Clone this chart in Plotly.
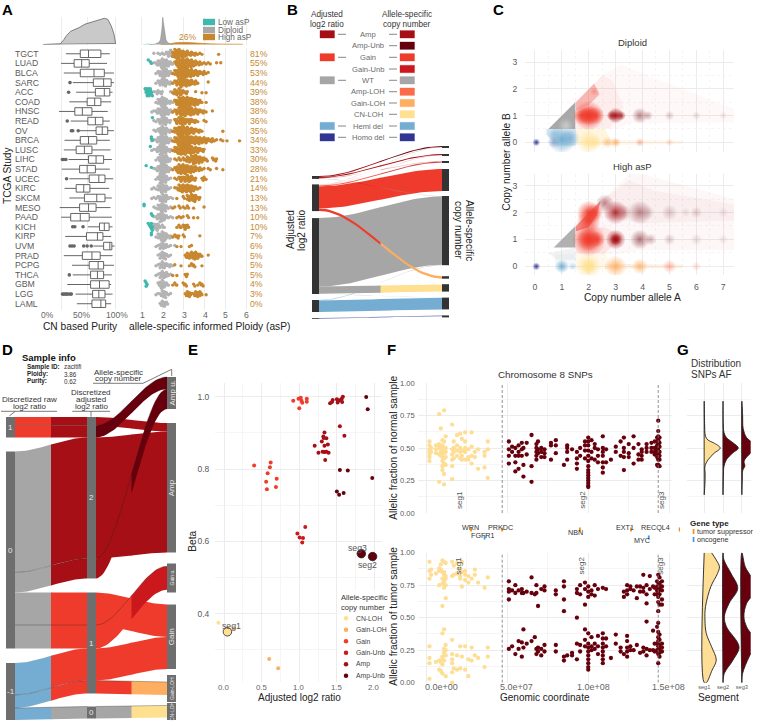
import plotly.graph_objects as go

W, H = 757, 725
FONT = "Liberation Sans"
AMP, AMPU, GAIN, GAINU, WT = "#a50f15", "#67000d", "#ef3b2c", "#cb181d", "#a6a6a6"
AMPLOH, GAINLOH, CNLOH, HEMI, HOMO = "#fb6a4a", "#fdae61", "#fee090", "#74add1", "#313695"
TEAL, BROWN, PCT = "#3fb8ad", "#c8872e", "#c58a35"
GRID, GRID2 = "#ececec", "#f5f5f5"
NODE = "#6e6e6e"

# ---------- Panel A ----------
STUDIES = ["TGCT","LUAD","BLCA","SARC","ACC","COAD","HNSC","READ","OV","BRCA","LUSC","LIHC","STAD",
           "UCEC","KIRC","SKCM","MESO","PAAD","KICH","KIRP","UVM","PRAD","PCPG","THCA","GBM","LGG","LAML"]
PCT_HIGH = [81,55,53,44,39,38,38,36,35,34,33,30,28,21,14,13,13,10,10,7,6,5,5,5,4,3,0]
WHISK_LO = [27,20,24,37,42,32,17,34,47,25,24,31,21,32,25,32,18,20,59,26,67,24,36,37,29,41,43]
Q1 = [48,39,48,67,70,58,40,59,71,48,42,60,47,61,42,54,47,34,76,57,82,51,61,63,63,66,65]
MEDIAN = [60,50,68,82,83,69,51,70,80,60,54,71,58,75,53,72,60,48,83,73,91,65,74,73,76,75,78]
Q3 = [78,61,83,93,91,78,65,81,88,72,65,82,70,84,62,84,71,61,90,81,94,77,82,82,90,84,85]
WHISK_HI = [91,87,97,97,95,93,88,91,97,91,92,94,91,96,90,94,92,94,95,93,98,95,97,94,93,95,93]
OUT_ROW = [3,4,7,8,8,8,11,11,11,13,18,18,18,20,20,20,20,20,20,23,25,25,25,25,25,25,25]
OUT_VAL = [33,31,29,35,37,45,22,24,27,28,37,40,52,33,36,39,53,58,64,32,22,24,26,28,30,33,35]
PUR_X = [-6,19,24,28,34,40,47,55,62,70,77,83,88,93,97,99.5]
PUR_Y = [0,2,15,28,41,46,53,63,68,73,77,81,78,58,33,3]
PLO_X = [1.35,1.6,1.8,1.88,1.94,1.98,2.0,2.03,2.08,2.15,2.25,2.4,2.5]
GRAY_D = [0,1,6,14,40,66,84,68,36,14,5,1,0]
BROWN_X = [1.9,2.3,2.55,2.8,3.2,3.7,4.2,4.8,5.82]
BROWN_D = [0,1,5,6.5,6,3.5,2,1,0.4]
TEAL_X = [1.0,1.1,1.3,1.5,1.65]
TEAL_D = [0,1.6,2,1.2,0]
DIP_START, HIGH_START = 1.4, 2.4
DIPLOID = ["0010111123430","0012345543210","0001235543210","0001234432110","0012221000120","0001345532110",
           "0112345543210","0011234432100","0011245432110","0112355543210","0112355432110","0001245542100",
           "0012355543100","0001255431100","0111345431100","0111235431110","0011345421100","0012355321110",
           "0134312100000","0001345532110","0001134221101","0000134421100","0001134322110","0001134331100",
           "0000245321000","0001124421100","0000023320000"]
HIGH = ["035554333222111100000001","0024555554433221111100101","0134455554433322211",
        "0123454433322100001","013343221000100101","002355555544332101","012345554443332211001",
        "002344332322110011","0134455443332211000000000" + "1",
        "01345555554444333322211" + "01101" + "00000" + "1",
        "0134555544433322100","001121223345543322002210","01245555443332211011001001",
        "0011232343321002210","0012444444332110","000100203344321","01102011200100001",
        "00011110200101","000121232","012210200000001","00010100011","0000000233444321001",
        "00100100012200010","010100021","0121002200020122","000000023312333101",""]
LOW = {"LUAD":[1.3,1.4,1.45],"ACC":[1.15,1.2,1.2,1.25,1.25,1.3,1.3,1.3,1.35,1.35,1.4,1.4,1.45,1.45,1.5,1.2,1.3,1.4],
       "READ":[1.5],"BRCA":[1.45,1.45,1.5],"LUSC":[1.4],"STAD":[1.2,1.45],"MESO":[1.1,1.1],"PAAD":[1.45,1.5],
       "KICH":[1.3,1.35,1.4,1.45,1.5,1.45,1.4,1.5],"KIRP":[1.45,1.45],"GBM":[1.15,1.2,1.25,1.2]}

# ---------- Panel B ----------
LEG_NAMES = ["Amp","Amp-Unb","Gain","Gain-Unb","WT","Amp-LOH","Gain-LOH","CN-LOH","Hemi del","Homo del"]
LEG_COLORS = [AMP,AMPU,GAIN,GAINU,WT,AMPLOH,GAINLOH,CNLOH,HEMI,HOMO]
LEG_LEFT = [1,0,1,0,1,0,0,0,1,1]
B_LEFT = ["Amp","Gain","WT","Hemi","Homo"]
B_RIGHT = ["AmpU","Amp","GainU","Gain","WT","GainLOH","CN","Hemi","Homo"]
B_COL = {"Amp":AMP,"AmpU":AMPU,"GainU":GAINU,"Gain":GAIN,"WT":WT,"GainLOH":GAINLOH,"CN":CNLOH,"Hemi":HEMI,"Homo":HOMO}
B_SRC = ["Amp","Gain","Amp","Gain","Amp","Gain","Gain","Gain","Amp","Gain","WT","WT","Hemi","WT","Hemi","Homo"]
B_DST = ["AmpU","AmpU","Amp","Amp","GainU","GainU","Gain","GainLOH","WT","CN","WT","CN","WT","Hemi","Hemi","Homo"]
B_VAL = [1.0,0.5,1.0,0.5,0.6,1.0,22.0,2.5,0.3,0.2,68.5,7.2,0.4,0.2,11.6,0.8]
B_ALPHA = [1,0.25,1,0.25,0.4,0.8,1,1,0.4,0.2,1,1,0.8,0.3,1,0.7]

# ---------- Panel C ----------
C_TICKS = [0,1,2,3,4,5,6,7]
DIP_BL_X = [0.05,0.7,1.0,1.3,0.7,2.0,2.25,3.0,3.9,5.0,2.0,2.0,1.75,2.25,3.0,2.85,3.2,3.9,4.2,5.0,6.0,7.0,1.15,2.7,2.2]
DIP_BL_Y = [0.0,0.0,0.1,0.15,0.3,0.0,0.0,0.0,0.0,0.0,1.0,1.0,1.0,1.0,1.0,1.0,1.0,1.0,1.0,1.0,1.0,1.0,0.62,0.0,1.9]
DIP_BL_S = [8,12,28,20,14,24,14,10,9,8,30,20,18,18,16,10,10,16,10,10,9,8,16,12,9]
DIP_BL_C = [HOMO,HOMO,HEMI,HEMI,HEMI,CNLOH,CNLOH,GAINLOH,AMPLOH,AMPLOH,GAIN,GAIN,GAIN,GAIN,AMP,AMP,AMP,"#8c3b42","#8c3b42","#a9777b","#c5a3a6","#c5a3a6","#ffffff",GAINLOH,GAIN]
DIP_BL_A = [1,0.4,1,0.8,0.5,0.9,0.7,0.9,0.45,0.25,1,1,0.9,0.9,1,0.8,0.8,0.6,0.4,0.4,0.4,0.3,0.4,0.6,0.3]
HI_BL_X = [0.05,1.0,2.0,2.0,3.0,3.9,5.0,6.0,2.0,2.0,2.3,3.0,3.0,3.9,4.3,5.0,6.0,7.0,2.0,2.0,2.2,2.6,3.0,3.3,3.9,4.2,5.0,5.6,6.0,7.0,1.4]
HI_BL_Y = [0.0,0.0,0.0,0.0,0.0,0.0,0.0,0.0,1.0,1.0,1.0,1.0,1.0,1.0,1.0,1.0,1.0,1.0,1.7,2.0,2.0,2.35,2.0,2.0,2.0,2.0,2.0,2.0,2.0,2.0,0.0]
HI_BL_S = [8,14,26,16,22,16,14,10,34,24,16,20,12,20,12,12,12,10,24,24,18,18,24,16,24,14,16,10,12,10,8]
HI_BL_C = [HOMO,HEMI,CNLOH,CNLOH,GAINLOH,GAINLOH,AMPLOH,AMPLOH,GAIN,GAIN,GAIN,AMP,AMP,"#8c3b42","#8c3b42","#a9777b","#c5a3a6","#c5a3a6",GAIN,GAIN,GAIN,"#a9525a",AMP,"#a9525a","#8c3b42","#a9777b","#a9777b","#c5a3a6","#a9777b","#c5a3a6",HEMI]
HI_BL_A = [1,0.95,0.95,1,0.9,0.8,0.45,0.25,1,1,0.9,1,1,0.7,0.4,0.4,0.4,0.3,0.9,0.9,0.8,0.7,0.85,0.5,0.6,0.35,0.4,0.3,0.35,0.3,0.4]

# ---------- Panel D ----------
RAW_NAMES, ADJ_NAMES = ["1","0","-1"], ["2","1","0"]
FINAL_NAMES = ["Amp u.","Amp","Gain u.","Gain","Gain-LOH","CN-LOH"]
RAW_COL = {"1":GAIN,"0":WT,"-1":HEMI}
ADJ_COL = {"2":AMP,"1":GAIN,"0":WT}
FIN_COL = {"Amp u.":AMPU,"Amp":AMP,"Gain u.":GAINU,"Gain":GAIN,"Gain-LOH":GAINLOH,"CN-LOH":CNLOH}
AL_RAW = ["1","1","0","0","0","0","-1","-1","-1"]
AL_ADJ = ["2","2","2","2","1","1","1","1","0"]
AL_FIN = ["Amp","Amp u.","Amp","Amp u.","Gain","Gain u.","Gain","Gain-LOH","CN-LOH"]
AL_VAL = [8.5,12,121,20,32.5,23.5,32,13,12]

# ---------- Panel E ----------
E_NAMES = ["CN-LOH","Gain-LOH","Gain","Gain-Unb","Amp","Amp-Unb"]
E_COLORS = [CNLOH,GAINLOH,GAIN,GAINU,AMP,AMPU]
E_X = {"CN-LOH":[-0.075],
       "Gain-LOH":[0.60,0.72,0.13],
       "Gain":[0.92,0.99,1.02,1.03,1.04,1.0,1.10,1.10,0.40,0.62,0.61,0.58,0.70,0.56,0.69,0.57],
       "Gain-Unb":[1.08,0.975,1.005,1.05,1.04],
       "Amp":[1.41,1.445,1.435,1.5,1.51,1.53,1.565,1.58,1.57,1.54,1.6,1.335,1.32,1.325,1.36,1.3,1.205,1.335,1.38,1.255,1.31,1.335,1.36,1.39,1.345],
       "Amp-Unb":[1.89,1.91,1.54,1.645,1.97,1.5,1.53,1.59]}
E_Y = {"CN-LOH":[0.375],
       "Gain-LOH":[0.275,0.249,0.36],
       "Gain":[0.989,0.994,0.997,0.989,0.983,0.968,0.994,0.986,0.81,0.818,0.805,0.788,0.773,0.765,0.75,0.744],
       "Gain-Unb":[0.64,0.622,0.611,0.609,0.597],
       "Amp":[0.982,0.991,0.985,0.993,0.984,0.99,0.994,1.0,0.985,0.918,0.892,0.901,0.89,0.886,0.885,0.876,0.864,0.864,0.868,0.845,0.848,0.847,0.848,0.845,0.825],
       "Amp-Unb":[0.999,0.965,0.797,0.796,0.775,0.738,0.729,0.734]}
SEG_NAMES = ["seg1","seg2","seg3"]
SEG_X = [0.045,1.975,1.825]
SEG_Y = [0.35,0.558,0.566]
SEG_COL = [CNLOH,AMPU,AMPU]

# ---------- Panel F ----------
N1 = {2:[.55,.52,.49,.47,.45,.43,.40],3:[.5,.47],6:[.52,.49,.46],8:[.53,.5,.45,.24,.76],9:[.65,.5,.47,.44],
      10:[.56,.52,.49,.46,.43,.40,.36,.33],11:[.55,.5,.46,.42,.38,.3,.22,.79],12:[.59,.5,.47,.43,.37],
      16:[.49,.45,.41,.36,.26,.68],17:[.55,.5,.47,.42],19:[.6,.52,.48,.44],21:[.61,.5,.47,.42],22:[.57,.48,.44,.41],
      24:[.55,.5,.47,.41,.62],26:[.49,.43,.41],28:[.51,.44,.38,.62],30:[.47,.43],32:[.34,.49],36:[.47,.44,.35],38:[.55,.49,.27]}
T1 = {2:[.93,.86,.80,.03,.19,.15,.28],3:[.87,.83],6:[.16,.84],8:[.75,.86,.88,.17,.1],9:[.91,.87,.09,.16],
      10:[.94,.85,.8,.76,.59,.2,.38,.19,.14,.07],11:[.93,.85,.83,.78,.73,.41,.26,.23,.17],12:[.92,.82,.8,.75,.65,.29,.25,.21,.05],
      16:[.93,.82,.33,.22,.18,.15,.08,0],17:[.9,.83,.11],19:[.92,.84,.21,.1],21:[.88,.8,.82,.28,.11],22:[.93,.85,.74,.2],
      24:[.86,.83,.79,.28,.1],26:[.82,.77,.18,.05],28:[.8,.27,.17],30:[.87,.83,.21],32:[.77,.19],36:[.73,.12],38:[.81,.27,.2]}
N2 = {51:[.55,.49,.44,.38],53:[.51,.47],55:[.5,.44,.39,.32],57:[.52,.47,.44,.34],59:[.49,.54,.44],60:[.28,.37,.5],62:[.54,.45],
      65:[.6,.36,.24],68:[.53,.5,.47,.44,.41],69:[.55,.49,.46],71:[.5,.47,.43],73:[.49,.46,.43],77:[.54,.41,.52],80:[.56,.52,.46],
      85:[.37],87:[.5,.47,.41,.52],90:[.49],93:[.42,.38,.34,.47],95:[.5,.44],98:[.55,.52,.48,.42],
      100:[.58,.55,.52,.48,.44,.4,.36,.33,.31,.29,.27,.25,.23,.21,.2],102:[.56,.47,.42],104:[.5,.53,.41],106:[.49,.44,.39],
      109:[.59,.5,.47,.44,.39,.35,.31],111:[.49,.39],114:[.41],117:[.47,.51],120:[.44,.55],122:[.58,.5,.47,.43,.33],
      125:[.53,.46,.43],128:[.59,.5,.38],131:[.53,.45,.41],133:[.49,.44,.47,.41],136:[.53,.5,.47],139:[.54,.5,.47],141:[.55,.5,.47,.45]}
T2 = {51:[.78,.72,.70,.64,.26],53:[.71,.28],55:[.75,.69,.22],57:[.71,.32,.26],59:[.72,.69,.2,.31],60:[.69,.41,.27],62:[.7,.3],
      65:[.81,.69,.32],67:[.68,.35],68:[.75,.69,.26,.22],69:[.59,.27,.24],71:[.72,.26,.21],73:[.74,.71,.29,.24],
      80:[.71,.68,.29,.24],85:[.78,.74,.64,.55,.2,.17],87:[.21],90:[.23,.21],93:[.5,.72,.69,.18,.3],95:[.75,.68,.29,.24],
      98:[.77,.72,.6,.41,.33,.28],100:[.74,.7,.66,.38,.3,.27,.24,.21,.18,.15,.12,.1],102:[.71,.68,.35,.28,.25],104:[.75,.67,.3,.26],
      106:[.72,.36,.28,.22],109:[.73,.38,.34,.3,.27,.24,.21,.18,.15],111:[.72,.34,.28],114:[.19],117:[.37,.3],120:[.27,.24],
      122:[.7,.66,.22],124:[.75,.71,.68,.36,.32,.27,.24,.2],126:[.74,.72,.28,.25],128:[.71,.25],130:[.74,.65,.29],
      132:[.74,.7,.23],134:[.83,.73,.7,.27,.24],136:[.75,.68,.61,.47,.26,.21],138:[.82,.72,.25],140:[.74,.4,.25],141:[.73,.68,.3,.24]}
N3 = {142.5:[.58,.55,.52,.49,.46,.43,.37],143.2:[.71,.63,.59,.56,.53,.5,.48,.46,.43,.41,.37,.36],144:[.58,.54,.51,.47,.44,.41,.36]}
T3 = {142.5:[.78,.74,.71,.68,.43,.3,.25,.24],143.2:[.83,.77,.73,.7,.66,.62,.55,.46,.39,.35,.32,.28,.25,.22,.15],
      144:[.81,.76,.72,.68,.6,.37,.33,.29,.26,.23,.2],145.5:[.78,.74,.71,.64,.6,.3,.27,.24]}
GENE_NAMES = ["WRN","PRKDC","FGFR1","NBN","EXT1","MYC","RECQL4"]
GENE_MB = [26.7,45.3,34.8,91.8,122.4,133,151.5]
GENE_ROW = [0,0,1,0,0,1,0]
GENE_COL = ["#f28e1c","#f28e1c","#3b9be8","#f28e1c","#f28e1c","#3b9be8","#f28e1c"]
F_MAJOR, F_MINOR = [0,5e7,1e8,1.5e8], [2.5e7,7.5e7,1.25e8]
F_Y_TICKS = [0,.25,.5,.75,1]
F_XLABELS = ["0.0e+00","5.0e+07","1.0e+08","1.5e+08"]
F_SEG_BREAKS = [4.69e7,1.432e8]

# ---------- Panel G ----------
G_TOP_AF = [[.86,.69,.59,.56,.54,.5,.46,.41,.36,.3,.23,.14],
            [.86,.69,.62,.58,.54,.5,.46,.41,.36,.3,.14],
            [.86,.75,.65,.58,.54,.5,.46,.4,.36,.33,.25,.14]]
G_TOP_D = [[0,.02,.07,.21,.5,.85,.53,.21,.04,.05,.04,0],
           [0,.01,.05,.18,.53,.81,.5,.18,.05,.02,0],
           [0,.04,.07,.25,.57,.81,.46,.12,.16,.05,.02,0]]
G_BOT_AF = [[1.0,.944,.892,.841,.738,.585,.482,.379,.277,.174,.097,0],
            [1.0,.944,.841,.726,.61,.508,.431,.277,.174,.072,0],
            [1.0,.892,.726,.61,.508,.431,.303,.2,.072,0]]
G_BOT_D = [[.39,.64,.81,.71,.35,.07,.04,.11,.39,.64,.42,.11],
           [0,.05,.42,.78,.32,.07,.18,.85,.53,.07,0],
           [0,.18,.78,.25,.11,.25,.78,.39,.04,0]]

# ===================== builders =====================
traces, shapes, annots = [], [], []
layout = {}
n_axes = [0]

def rgba(c, a=1.0):
    c = c.lstrip("#")
    return f"rgba({int(c[:2],16)},{int(c[2:4],16)},{int(c[4:],16)},{a})"

def panel(l, t, r, b, xr, yr, xt=None, yt=None, xminor=None, yminor=None, xlab=None, ylab=None,
          xfont=8.5, yfont=8.5, grid=True, minor_dash="solid", xstand=2, ystand=3):
    n_axes[0] += 1
    k = n_axes[0]
    sfx = "" if k == 1 else str(k)
    def ax(dom, rng, tv, tt, mn, font, anchor, stand):
        d = dict(domain=dom, range=rng, anchor=anchor, zeroline=False, showline=False,
                 showgrid=bool(grid and tv), gridcolor=GRID, gridwidth=1,
                 tickvals=tv or [], tickfont=dict(size=font, color="#5a5a5a", family=FONT),
                 ticks="outside" if stand else "", ticklen=stand, tickcolor="rgba(0,0,0,0)",
                 fixedrange=True, layer="below traces", automargin=False)
        if tt is not None:
            d["ticktext"] = tt
        if mn:
            d["minor"] = dict(tickvals=mn, showgrid=True, gridcolor=GRID2, gridwidth=1, griddash=minor_dash, ticklen=0)
        return d
    layout["xaxis"+sfx] = ax([l/W, r/W], xr, xt, xlab, xminor, xfont, "y"+sfx, xstand)
    layout["yaxis"+sfx] = ax([1-b/H, 1-t/H], yr, yt, ylab, yminor, yfont, "x"+sfx, ystand)
    return "x"+sfx, "y"+sfx

CV = panel(0, 0, W, H, [0, W], [H, 0], grid=False, xstand=0, ystand=0)
layout["xaxis"]["visible"] = False
layout["yaxis"]["visible"] = False

def txt(x, y, s, size=8.5, color="#4d4d4d", anchor="center", angle=0, bold=False, xref="x", yref="y"):
    if bold:
        s = f"<b>{s}</b>"
    annots.append(dict(x=x, y=y, xref=xref, yref=yref, text=s, showarrow=False, xanchor=anchor, yanchor="middle",
                       textangle=angle, font=dict(size=size, color=color, family=FONT), borderpad=0, borderwidth=0))

def rect(x0, y0, x1, y1, color, line=None):
    shapes.append(dict(type="rect", xref="x", yref="y", x0=x0, x1=x1, y0=y0, y1=y1, fillcolor=color, layer="above",
                       line=dict(width=0.8 if line else 0, color=line or color)))

def seg(x0, y0, x1, y1, color="#444444", w=0.7):
    shapes.append(dict(type="line", xref="x", yref="y", x0=x0, x1=x1, y0=y0, y1=y1, layer="above", line=dict(color=color, width=w)))

def poly(ax_, xs, ys, color, alpha=1.0, line=None, lw=0, shape="linear"):
    traces.append(go.Scatter(x=xs, y=ys, xaxis=ax_[0], yaxis=ax_[1], mode="lines", fill="toself", hoverinfo="skip", showlegend=False,
                             fillcolor=rgba(color, alpha), line=dict(width=lw, color=line or rgba(color, 0), shape=shape)))

def dots(ax_, xs, ys, color, size, alpha=1.0, line=None, lw=0):
    traces.append(go.Scatter(x=xs, y=ys, xaxis=ax_[0], yaxis=ax_[1], mode="markers", hoverinfo="skip", showlegend=False, cliponaxis=False,
                             marker=dict(size=size, color=rgba(color, alpha), line=dict(width=lw, color=line or color))))

def ribbon_edge(x0, y0, x1, y1, t0, t1, n=18):
    xs, ys = [], []
    for i in range(n+1):
        t = t0 + (t1-t0)*i/n
        s = t*t*(3-2*t)
        xs.append(x0+(x1-x0)*t)
        ys.append(y0+(y1-y0)*s)
    return xs, ys

def ribbon(x0, x1, a0, a1, b0, b1, t0, t1, color, alpha=1.0):
    xa, ya = ribbon_edge(x0, a0, x1, b0, t0, t1)
    xb, yb = ribbon_edge(x0, a1, x1, b1, t0, t1)
    poly(CV, xa+xb[::-1], ya+yb[::-1], color, alpha)

def node_stack(names, sums, top, gaps, pads=None):
    out, y = {}, top
    for i, nm in enumerate(names):
        h = sums[i] + (pads[i] if pads else 0)
        out[nm] = (y, y+h, (pads[i]/2 if pads else 0))
        y += h + (gaps[i] if i < len(gaps) else 0)
    return out

# ===================== Panel A =====================
txt(7, 9, "A", 15, "#000000", bold=True)
A1 = panel(42, 48, 117, 309.5, [-7.8, 101.5], [26.6, -0.6], xt=[20,58.5,99], xlab=["","",""], xstand=0, ystand=0)
A1D = panel(42, 17, 117, 44.5, [-7.8, 101.5], [0, 85], xt=[20,58.5,99], xlab=["","",""], xstand=0, ystand=0)
poly(A1D, PUR_X+[PUR_X[0]], PUR_Y+[0], "#c9c9c9", 1, line="#555555", lw=0.7)
traces.append(go.Box(y=list(range(27)), q1=Q1, median=MEDIAN, q3=Q3, lowerfence=WHISK_LO, upperfence=WHISK_HI, orientation="h",
                     boxpoints=False, whiskerwidth=0, width=0.78, xaxis=A1[0], yaxis=A1[1], showlegend=False, hoverinfo="skip",
                     fillcolor="#ffffff", line=dict(color="#555555", width=0.9)))
dots(A1, OUT_VAL, OUT_ROW, "#666666", 3.6)
for i, s in enumerate(STUDIES):
    txt(15.3, 53.7+i*9.615, s, 8.7, "#5a5a5a", anchor="left")
txt(47.3, 314.5, "0%", 8.5, "#666666")
txt(81.7, 314.5, "50%", 8.5, "#666666")
txt(116.5, 314.5, "100%", 8.5, "#666666")
txt(80.5, 326, "CN based Purity", 10.2, "#222222")
txt(7, 175, "TCGA Study", 10.2, "#222222", angle=-90)

A2 = panel(138, 48, 250, 309.5, [0.81, 6.17], [26.6, -0.6], xt=[1,2,3,4,5,6], xlab=[""]*6, xstand=0, ystand=0)
A2D = panel(138, 17, 250, 44.5, [0.81, 6.17], [0, 85], xt=[1,2,3,4,5,6], xlab=[""]*6, xstand=0, ystand=0)
for px, s in zip([142, 163, 184, 205, 225, 246], ["1","2","3","4","5","6"]):
    txt(px, 314.5, s, 8.7, "#666666")
poly(A2D, BROWN_X+[BROWN_X[0]], BROWN_D+[0], BROWN, 1, line=BROWN, lw=0.7)
poly(A2D, PLO_X+[PLO_X[0]], GRAY_D+[0], "#a8a8a8", 1, line="#777777", lw=0.4)
poly(A2D, TEAL_X+[TEAL_X[0]], TEAL_D+[0], TEAL, 1)
def swarm_y(row, k, n, i):
    return row + (k-(n-1)/2)*0.2 + (0.06 if i % 2 else -0.06)
for row, st in enumerate(STUDIES):
    for vals, start, col in ((DIPLOID[row], DIP_START, "#b3b3b3"), (HIGH[row], HIGH_START, BROWN)):
        xs, ys = [], []
        for i, ch in enumerate(vals):
            n = int(ch)
            for k in range(n):
                xs.append(start+0.1*i+(0.03 if k % 2 else -0.03))
                ys.append(swarm_y(row, k, n, i))
        if xs:
            dots(A2, xs, ys, col, 3.4)
    if st in LOW:
        lv = LOW[st]
        dots(A2, lv, [row+(-0.36+0.18*(i % 5)) for i in range(len(lv))], TEAL, 3.4)
    txt(250, 53.7+row*9.615, f"{PCT_HIGH[row]}%", 8.7, PCT, anchor="left")
txt(187, 37, "26%", 8.5, PCT)
for yy, c, s in ((22, TEAL, "Low asP"), (30, "#a8a8a8", "Diploid"), (37, BROWN, "High asP")):
    rect(203, yy-3.2, 215, yy+3.2, c)
    txt(218, yy, s, 8.2, "#666666", anchor="left")
txt(209.5, 326, "allele-specific informed Ploidy (asP)", 10.2, "#222222")

# ===================== Panel B =====================
txt(292, 9, "B", 15, "#000000", bold=True)
txt(327, 14, "Adjusted", 8.2, "#333333"); txt(327, 24, "log2 ratio", 8.2, "#333333")
txt(407, 14, "Allele-specific", 8.2, "#333333"); txt(407, 24, "copy number", 8.2, "#333333")
B_ROWS = [34.3,45.7,57.3,69,80.3,91.7,103,114.3,126,137.3]
for i, nm in enumerate(LEG_NAMES):
    yy = B_ROWS[i]
    txt(368, yy, nm, 7.6, "#6a6a6a")
    seg(389, yy, 397, yy, "#555555", 0.7)
    rect(400, yy-3.7, 414.5, yy+3.7, LEG_COLORS[i], line=rgba(LEG_COLORS[i], 0.45))
    if LEG_LEFT[i]:
        seg(338, yy, 346, yy, "#555555", 0.7)
        rect(320, yy-3.7, 334.5, yy+3.7, LEG_COLORS[i], line=rgba(LEG_COLORS[i], 0.45))
lsum = [sum(v for s, v in zip(B_SRC, B_VAL) if s == nm) for nm in B_LEFT]
rsum = [max(2, sum(v for s, v in zip(B_DST, B_VAL) if s == nm)) for nm in B_RIGHT]
Lnodes = node_stack(B_LEFT, lsum, 176, [5.5, 7, 6, 6])
Rnodes = node_stack(B_RIGHT, rsum, 146, [6, 5, 6, 5, 11, 5.5, 6, 6])
loff, roff = {k: 0.0 for k in Lnodes}, {k: 0.0 for k in Rnodes}
bpos = []
for i in range(len(B_VAL)):
    s, d, v = B_SRC[i], B_DST[i], B_VAL[i]
    a0 = Lnodes[s][0]+loff[s]; loff[s] += v
    b0 = Rnodes[d][0]+roff[d]; roff[d] += v
    bpos.append((a0, b0, v, s, d, B_ALPHA[i]))
for a0, b0, v, s, d, al in sorted(bpos, key=lambda r: -r[2]):
    ribbon(319, 442, a0, a0+v, b0, b0+v, 0, 0.5 if al < 1 else 0.505, B_COL[s], al)
    ribbon(319, 442, a0, a0+v, b0, b0+v, 0.5, 1, B_COL[d], al)
for nd in Lnodes.values():
    rect(312, nd[0], 319, nd[1], "#333333")
for nd in Rnodes.values():
    rect(442, nd[0], 449, nd[1], "#333333")
txt(290, 230, "Adjusted", 10, "#222222", angle=-90); txt(301, 230, "log2 ratio", 10, "#222222", angle=-90)
txt(459, 230, "copy number", 10, "#222222", angle=90); txt(470, 230, "Allele-specific", 10, "#222222", angle=90)

# ===================== Panel C =====================
txt(498, 9, "C", 15, "#000000", bold=True)
C1 = panel(525, 50, 734, 152, [-0.37, 7.4], [-0.36, 3.45], xt=C_TICKS, yt=[0,1,2,3], xlab=[""]*8,
           xminor=[.5,1.5,2.5,3.5,4.5,5.5,6.5], yminor=[.5,1.5,2.5], minor_dash="dot", xstand=0, ystand=5)
C2 = panel(525, 174, 734, 275, [-0.37, 7.4], [-0.32, 3.43], xt=C_TICKS, yt=[0,1,2,3],
           xminor=[.5,1.5,2.5,3.5,4.5,5.5,6.5], yminor=[.5,1.5,2.5], minor_dash="dot", xstand=4, ystand=5, xfont=8.7, yfont=8.7)
poly(C1, [0.5,1.5,1.5], [0.5,1.5,0.5], "#a8a8a8", 1)
poly(C1, [0.42,1.52,1.52,0.85,0.42], [0.5,0.5,-0.12,-0.12,0.3], HEMI, 0.28)
poly(C1, [1.52,2.6,2.9,1.52], [0.5,0.5,-0.1,-0.1], CNLOH, 0.3)
poly(C1, [2.5,5.5,5.5,2.5], [0.1,0.06,-0.06,-0.1], "#fdd0a2", 0.2)
poly(C1, [1.52,2.5,3.2,7.4,7.4,3.5,3.0,1.52], [1.5,2.5,2.9,1.25,0.75,0.7,0.5,0.5], GAIN, 0.03)
poly(C1, [1.52,2.5,2.9,3.3,2.8,2.0,1.52], [1.5,2.5,2.3,1.3,0.55,0.5,0.5], GAIN, 0.06)
poly(C1, [1.52,2.2,2.4,2.0,1.52], [1.5,2.2,1.8,1.4,1.2], GAIN, 0.3)
def blobs(ax_, X, Y, S, C, A):
    for x, y, s, c, a in zip(X, Y, S, C, A):
        traces.append(go.Scatter(x=[x], y=[y], xaxis=ax_[0], yaxis=ax_[1], mode="markers", hoverinfo="skip", showlegend=False,
                                 marker=dict(size=s, color=rgba(c, 0), line=dict(width=0),
                                             gradient=dict(type="radial", color=rgba(c, a)))))
blobs(C1, DIP_BL_X, DIP_BL_Y, DIP_BL_S, DIP_BL_C, DIP_BL_A)
poly(C2, [0.7,1.5,1.5], [0.7,1.5,0.7], "#a8a8a8", 0.9)
poly(C2, [0.5,1.5,1.5,0.8], [0.5,0.7,0.25,0.25], "#cfcfcf", 0.25)
poly(C2, [0.75,1.52,1.52,0.75], [0.45,0.45,-0.1,-0.1], HEMI, 0.08)
poly(C2, [1.52,2.6,2.9,1.52], [0.5,0.5,-0.12,-0.12], CNLOH, 0.18)
poly(C2, [2.6,5.5,5.5,2.6], [0.1,0.06,-0.06,-0.1], "#fdd0a2", 0.3)
poly(C2, [1.52,3.5,4.0,7.4,7.4,4.0,3.0,1.52], [1.5,3.43,3.43,2.5,0.6,0.6,0.45,0.45], GAIN, 0.04)
poly(C2, [2.4,3.5,4.5,7.4,7.4,4.0,2.6], [2.4,3.2,2.8,2.3,1.7,1.6,1.8], AMP, 0.04)
poly(C2, [1.52,2.45,2.3,2.0,1.52], [1.5,2.45,1.9,1.45,1.3], GAIN, 0.55)
poly(C2, [1.52,2.6,3.3,2.6,1.52], [1.45,1.45,1.1,0.5,0.5], GAIN, 0.09)
blobs(C2, HI_BL_X, HI_BL_Y, HI_BL_S, HI_BL_C, HI_BL_A)
txt(632.7, 42, "Diploid", 9.5, "#333333")
txt(632.7, 166, "High asP", 9.5, "#333333")
txt(632.7, 297, "Copy number allele A", 10.2, "#222222")
txt(505.7, 162, "Copy number allele B", 10.2, "#222222", angle=-90)

# ===================== Panel D =====================
txt(7, 349, "D", 15, "#000000", bold=True)
raw_sum = [sum(v for s, v in zip(AL_RAW, AL_VAL) if s == nm) for nm in RAW_NAMES]
adj_sum = [sum(v for s, v in zip(AL_ADJ, AL_VAL) if s == nm) for nm in ADJ_NAMES]
fin_sum = [sum(v for s, v in zip(AL_FIN, AL_VAL) if s == nm) for nm in FINAL_NAMES]
Rn = node_stack(RAW_NAMES, raw_sum, 417, [14, 14.5])
An = node_stack(ADJ_NAMES, adj_sum, 417, [14, 13])
Fn = node_stack(FINAL_NAMES, fin_sum, 377, [14, 11, 12, 6, 1], pads=[0, 0, 5.5, 0, 14, 5])
ro, ao, fo = {k: 0.0 for k in Rn}, {k: 0.0 for k in An}, {k: Fn[k][2] for k in Fn}
pos = []
for i in range(len(AL_VAL)):
    v = AL_VAL[i]
    y0 = Rn[AL_RAW[i]][0]+ro[AL_RAW[i]]; ro[AL_RAW[i]] += v
    y1 = An[AL_ADJ[i]][0]+ao[AL_ADJ[i]]; ao[AL_ADJ[i]] += v
    y2 = Fn[AL_FIN[i]][0]+fo[AL_FIN[i]]; fo[AL_FIN[i]] += v
    pos.append((y0, y1, y2, v))
for i, (y0, y1, y2, v) in enumerate(pos):
    ribbon(15, 87, y0, y0+v, y1, y1+v, 0, 0.51, RAW_COL[AL_RAW[i]])
for i, (y0, y1, y2, v) in enumerate(pos):
    ribbon(15, 87, y0, y0+v, y1, y1+v, 0.5, 1, ADJ_COL[AL_ADJ[i]])
draw_order = [0, 2, 4, 6, 7, 8, 5, 3, 1]
for i in draw_order:
    y0, y1, y2, v = pos[i]
    lc = FIN_COL["Amp u."] if i == 1 else ADJ_COL[AL_ADJ[i]]
    ribbon(96, 167, y1, y1+v, y2, y2+v, 0, 0.51, lc)
    ribbon(96, 167, y1, y1+v, y2, y2+v, 0.5, 1, FIN_COL[AL_FIN[i]])
for i in (1, 3, 5, 7, 8):
    y0, y1, y2, v = pos[i]
    for x0, x1, a, b in ((15, 87, y0, y1), (96, 167, y1, y2)):
        xs, ys = ribbon_edge(x0, a, x1, b, 0, 1)
        traces.append(go.Scatter(x=xs, y=ys, xaxis=CV[0], yaxis=CV[1], mode="lines", hoverinfo="skip", showlegend=False,
                                 line=dict(color="rgba(50,30,30,0.55)", width=0.6)))
for nm in RAW_NAMES:
    rect(6, Rn[nm][0], 15, Rn[nm][1], NODE)
    txt(10.5, (Rn[nm][0]+Rn[nm][1])/2, nm, 8, "#e8e8e8")
for nm in ADJ_NAMES:
    rect(87, An[nm][0], 96, An[nm][1], NODE)
    txt(91.5, (An[nm][0]+An[nm][1])/2, nm, 8, "#e8e8e8")
for nm in FINAL_NAMES:
    rect(167, Fn[nm][0], 176, Fn[nm][1], NODE)
    txt(171.5, (Fn[nm][0]+Fn[nm][1])/2, nm, 8 if len(nm) < 7 and nm != "CN-LOH" else 5, "#e8e8e8", angle=-90)
txt(49, 357, "Sample info", 9.5, "#111111", bold=True)
for yy, a, b in ((366.7, "Sample ID:", "zacitifi"), (374, "Ploidy:", "3.86"), (381, "Purity:", "0.62")):
    txt(27, yy, a, 6.3, "#222222", anchor="left", bold=True)
    txt(63.5, yy, b, 6.3, "#333333", anchor="left")
txt(118, 372.3, "Allele-specific", 8, "#333333"); txt(118, 378.7, "copy number", 8, "#333333")
seg(93, 383.3, 143, 383.3); seg(143, 383.3, 171.7, 369.3); seg(171.7, 369.3, 171.7, 376)
txt(29, 399.3, "Discretized raw", 8, "#333333"); txt(29, 406, "log2 ratio", 8, "#333333")
seg(1, 411.3, 57, 411.3); seg(15, 411.5, 9.3, 416)
txt(91, 392, "Discretized", 8, "#333333"); txt(91, 399, "adjusted", 8, "#333333"); txt(91, 406, "log2 ratio", 8, "#333333")
seg(72.3, 411.3, 110, 411.3); seg(91, 411.3, 91, 416.7)

# ===================== Panel E =====================
txt(193, 349, "E", 15, "#000000", bold=True)
E = panel(215, 383.3, 382, 681.7, [-0.12, 2.1], [0.212, 1.037], xt=[0,.5,1,1.5,2], yt=[.4,.6,.8,1],
          xlab=[""]*5, ylab=["0.4","0.6","0.8","1.0"],
          xminor=[.25,.75,1.25,1.75], yminor=[.3,.5,.7,.9], xfont=8, yfont=8.5, xstand=0, ystand=3)
for vx, s in zip([224, 261.7, 299.3, 337, 374.3], ["0.0","0.5","1.0","1.5","2.0"]):
    txt(vx, 687, s, 7.8, "#666666")
for nm, c in zip(E_NAMES, E_COLORS):
    dots(E, E_X[nm], E_Y[nm], c, 4)
for x, y, c in zip(SEG_X, SEG_Y, SEG_COL):
    dots(E, [x], [y], c, 8.5, line="#222222", lw=0.8)
txt(357, 547.5, "seg3", 8.7, "#555555"); txt(367.5, 565, "seg2", 8.7, "#555555"); txt(231, 625.5, "seg1", 8.7, "#555555")
txt(299, 697, "Adjusted log2 ratio", 10, "#222222")
txt(191.7, 541, "Beta", 10.2, "#222222", angle=-90)
txt(340.5, 597.7, "Allele-specific", 7.6, "#333333", anchor="left")
txt(340.5, 607.7, "copy number", 7.6, "#333333", anchor="left")
CT = panel(0, 0, W, H, [0, W], [H, 0], grid=False, xstand=0, ystand=0)
layout["xaxis"+CT[0][1:]]["visible"] = False
layout["yaxis"+CT[1][1:]]["visible"] = False
poly(CT, [337,382,382,337], [590,590,682,682], "#ffffff")
for i, nm in enumerate(E_NAMES):
    yy = 618.3+i*11.5
    dots(CT, [346], [yy], E_COLORS[i], 4.5)
    txt(355.7, yy, nm, 6.8, "#444444", anchor="left")

# ===================== Panel F =====================
txt(391, 349, "F", 15, "#000000", bold=True)
FXR = [-4.9e6, 1.517e8]
F1 = panel(418.3, 383, 672, 513, FXR, [0, 1], xt=F_MAJOR, yt=F_Y_TICKS, xlab=[""]*4, ylab=["0.00","0.25","0.50","0.75","1.00"],
           xminor=F_MINOR, yminor=[.125,.375,.625,.875], yfont=7.6, xstand=0, ystand=1)
F2 = panel(418.3, 552.7, 672, 682.7, FXR, [0, 1], xt=F_MAJOR, yt=F_Y_TICKS, xlab=[""]*4, ylab=["0.00","0.25","0.50","0.75","1.00"],
           xminor=F_MINOR, yminor=[.125,.375,.625,.875], yfont=7.6, xstand=0, ystand=1)
def cols(d):
    xs, ys = [], []
    for k, vs in d.items():
        for v in vs:
            xs.append(k*1e6); ys.append(v)
    return xs, ys
for ax_, d1, d2, d3 in ((F1, N1, N2, N3), (F2, T1, T2, T3)):
    for d, c in ((d1, "#fedd94"), (d2, AMPU), (d3, AMPU)):
        xs, ys = cols(d)
        dots(ax_, xs, ys, c, 4.3)
    for b in F_SEG_BREAKS:
        traces.append(go.Scatter(x=[b, b], y=[0, 1], xaxis=ax_[0], yaxis=ax_[1], mode="lines", hoverinfo="skip", showlegend=False,
                                 line=dict(color="#777777", width=0.8, dash="3px,2px")))
for sx, s in ((459, "seg1"), (581.7, "seg2"), (661, "seg3")):
    txt(sx, 500, s, 8, "#555555", angle=-90)
    txt(sx, 565.7, s, 8, "#555555", angle=-90)
txt(545, 374, "Chromosome 8 SNPs", 9.8, "#333333")
txt(545, 697, "Genomic coordinate", 10, "#222222")
txt(394, 447.7, "Allelic fraction of normal sample", 10.2, "#222222", angle=-90)
txt(394, 616.7, "Allelic fraction of tumor sample", 10.2, "#222222", angle=-90)
for cx, s in zip([441, 516.7, 593.7, 668], F_XLABELS):
    txt(cx, 687, s, 9, "#666666")
GS = panel(418.3, 520, 680, 545, FXR, [1.94, -1.19], grid=False, xstand=0, ystand=0)
layout["xaxis"+GS[0][1:]]["visible"] = False
layout["yaxis"+GS[1][1:]]["visible"] = False
GENE_LX = [470, 500, 482.5, 575, 624.5, 642, 655]
GENE_LY = [527, 527, 535.7, 532.3, 527, 540, 527]
for i, nm in enumerate(GENE_NAMES):
    traces.append(go.Scatter(x=[GENE_MB[i]*1e6]*2, y=[GENE_ROW[i]-0.25, GENE_ROW[i]+0.25], xaxis=GS[0], yaxis=GS[1], mode="lines",
                             hoverinfo="skip", showlegend=False, line=dict(color=GENE_COL[i], width=1.8), cliponaxis=False))
    txt(GENE_LX[i], GENE_LY[i], nm, 7.2, "#333333")

# ===================== Panel G =====================
txt(683, 349, "G", 15, "#000000", bold=True)
G1 = panel(686.7, 383, 750.7, 513, [0.07, 3.47], [0, 1], xt=[1,2,3], yt=F_Y_TICKS, xlab=[""]*3, ylab=[""]*5,
           yminor=[.125,.375,.625,.875], xstand=0, ystand=0)
G2 = panel(686.7, 552.7, 750.7, 682.7, [0.07, 3.47], [0, 1], xt=[1,2,3], yt=F_Y_TICKS, xlab=["seg1","seg2","seg3"], ylab=[""]*5,
           yminor=[.125,.375,.625,.875], xfont=5.6, xstand=0, ystand=0)
G_COL = ["#fedd94", AMPU, AMPU]
for ax_, AF, D in ((G1, G_TOP_AF, G_TOP_D), (G2, G_BOT_AF, G_BOT_D)):
    for i in range(3):
        xs = [i+1+d for d in D[i]]
        poly(ax_, xs+[i+1, i+1], AF[i]+[AF[i][-1], AF[i][0]], G_COL[i], 1, line="#222222", lw=0.9, shape="spline")
txt(691, 363, "Distribution", 10, "#333333", anchor="left")
txt(691, 374, "SNPs AF", 10, "#333333", anchor="left")
txt(718, 697, "Segment", 10.2, "#222222")
txt(690, 523, "Gene type", 8, "#222222", anchor="left", bold=True)
rect(692.7, 529, 694.4, 534, "#f28e1c"); txt(696.5, 531, "tumor suppressor", 7.2, "#333333", anchor="left")
rect(692.7, 537, 694.4, 542, "#3b9be8"); txt(696.5, 539, "oncogene", 7.2, "#333333", anchor="left")

fig = go.Figure(data=traces)
fig.update_layout(width=W, height=H, margin=dict(l=0, r=0, t=0, b=0, pad=0), plot_bgcolor="rgba(0,0,0,0)", paper_bgcolor="#ffffff",
                  showlegend=False, autosize=False, font=dict(family=FONT), shapes=shapes, annotations=annots, **layout)
fig.write_html("out.html", config=dict(displayModeBar=False), post_script="document.body.style.margin='0';")
